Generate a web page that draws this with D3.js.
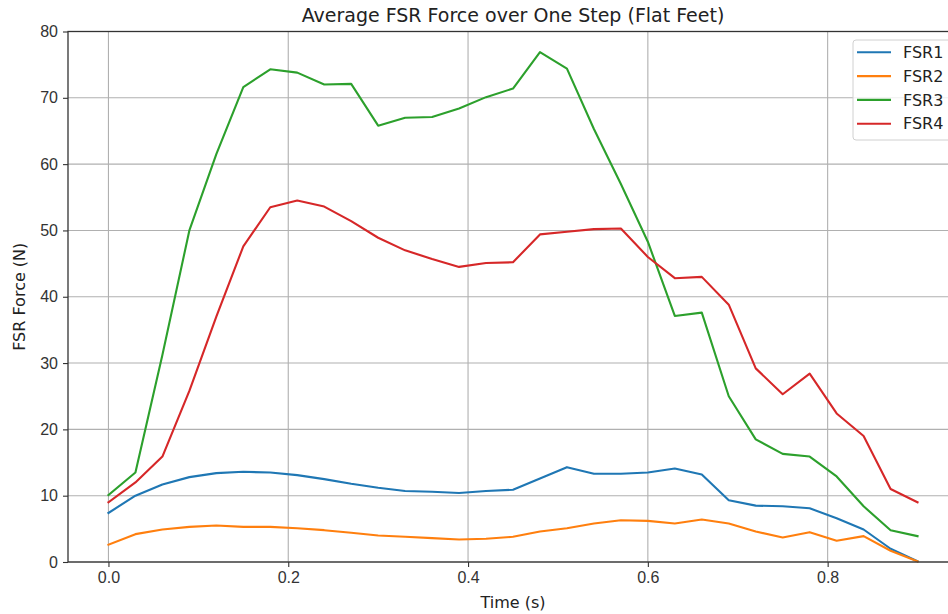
<!DOCTYPE html>
<html>
<head>
<meta charset="utf-8">
<script src="https://cdn.jsdelivr.net/npm/d3@7"></script>
<style>
  html, body { margin: 0; padding: 0; background: #fff; overflow: hidden; }
  svg { display: block; font-family: "DejaVu Sans", sans-serif; }
</style>
</head>
<body>
<div class="canvas"></div>
<script>
// time points (s)
const times = [0.00, 0.03, 0.06, 0.09, 0.12, 0.15, 0.18, 0.21, 0.24, 0.27, 0.30,
    0.33, 0.36, 0.39, 0.42, 0.45, 0.48, 0.51, 0.54, 0.57, 0.60,
    0.63, 0.66, 0.69, 0.72, 0.75, 0.78, 0.81, 0.84, 0.87, 0.90];

const fsr1 = [7.4, 10.0, 11.7, 12.8, 13.4, 13.6, 13.5, 13.1, 12.5, 11.8, 11.2,
    10.7, 10.6, 10.4, 10.7, 10.9, 12.6, 14.3, 13.3, 13.3, 13.5,
    14.1, 13.2, 9.3, 8.5, 8.4, 8.1, 6.6, 4.9, 2.0, 0.1];
const fsr2 = [2.6, 4.2, 4.9, 5.3, 5.5, 5.3, 5.3, 5.1, 4.8, 4.4, 4.0,
    3.8, 3.6, 3.4, 3.5, 3.8, 4.6, 5.1, 5.8, 6.3, 6.2,
    5.8, 6.4, 5.8, 4.6, 3.7, 4.5, 3.2, 3.9, 1.7, 0.1];
const fsr3 = [10.1, 13.5, 31.2, 50.0, 61.5, 71.6, 74.3, 73.8, 72.0, 72.1, 65.8,
    67.0, 67.1, 68.4, 70.1, 71.4, 76.9, 74.4, 65.3, 57.0, 48.3,
    37.1, 37.6, 25.0, 18.5, 16.3, 15.9, 12.9, 8.4, 4.8, 3.9];
const fsr4 = [9.0, 12.0, 15.9, 25.8, 37.0, 47.6, 53.5, 54.5, 53.6, 51.4, 48.9,
    47.0, 45.7, 44.5, 45.1, 45.2, 49.4, 49.8, 50.2, 50.3, 46.0,
    42.8, 43.0, 38.8, 29.2, 25.3, 28.4, 22.4, 19.0, 11.0, 9.0];

const seriesNames = ['FSR1', 'FSR2', 'FSR3', 'FSR4'];
const seriesColors = ['#1f77b4', '#ff7f0e', '#2ca02c', '#d62728'];
const xTicks = [0.0, 0.2, 0.4, 0.6, 0.8];
const yTicks = [0, 10, 20, 30, 40, 50, 60, 70, 80];

const dim = { width: 948, height: 614 };
const margin = { left: 68, top: 31.5, right: 958, bottom: 562 };

const svg = d3.select('.canvas').append('svg')
    .attr('width', dim.width)
    .attr('height', dim.height);

const x = d3.scaleLinear().domain([-0.045, 0.945]).range([margin.left, margin.right]);
const y = d3.scaleLinear().domain([0, 80]).range([margin.bottom, margin.top]);

// grid
const grid = svg.append('g').attr('stroke', '#b0b0b0').attr('stroke-width', 1.1);
grid.selectAll('.gx').data(xTicks).enter().append('line')
    .attr('x1', d => x(d)).attr('x2', d => x(d))
    .attr('y1', margin.top).attr('y2', margin.bottom);
grid.selectAll('.gy').data(yTicks).enter().append('line')
    .attr('x1', margin.left).attr('x2', margin.right)
    .attr('y1', d => y(d)).attr('y2', d => y(d));

// lines
const series = [fsr1, fsr2, fsr3, fsr4];
const line = d3.line()
    .x((d, i) => x(times[i]))
    .y(d => y(d));

svg.append('g').selectAll('path')
    .data(series)
    .enter().append('path')
    .attr('d', line)
    .attr('fill', 'none')
    .attr('stroke', (d, i) => seriesColors[i])
    .attr('stroke-width', 2.1)
    .attr('stroke-linejoin', 'round')
    .attr('stroke-linecap', 'square');

// axes
const xAxis = d3.axisBottom(x).tickValues(xTicks).tickFormat(d3.format('.1f')).tickSize(5).tickPadding(5);
const yAxis = d3.axisLeft(y).tickValues(yTicks).tickSize(5).tickPadding(5);

const gx = svg.append('g').attr('transform', `translate(0, ${margin.bottom})`).call(xAxis);
const gy = svg.append('g').attr('transform', `translate(${margin.left}, 0)`).call(yAxis);

[gx, gy].forEach(g => {
    g.select('.domain').remove();
    g.selectAll('line').attr('stroke', '#333').attr('stroke-width', 1.1);
    g.selectAll('text').attr('fill', '#333').style('font-size', '16px');
});

// spines
svg.append('rect')
    .attr('x', margin.left).attr('y', margin.top)
    .attr('width', margin.right - margin.left)
    .attr('height', margin.bottom - margin.top)
    .attr('fill', 'none')
    .attr('stroke', '#333')
    .attr('stroke-width', 1.3);

// titles
svg.append('text')
    .attr('x', (margin.left + margin.right) / 2)
    .attr('y', 22)
    .attr('text-anchor', 'middle')
    .style('font-size', '19px')
    .attr('fill', '#222')
    .text('Average FSR Force over One Step (Flat Feet)');

svg.append('text')
    .attr('x', (margin.left + margin.right) / 2)
    .attr('y', 608)
    .attr('text-anchor', 'middle')
    .style('font-size', '16px')
    .attr('fill', '#222')
    .text('Time (s)');

svg.append('text')
    .attr('transform', `translate(25, ${(margin.top + margin.bottom) / 2}) rotate(-90)`)
    .attr('text-anchor', 'middle')
    .style('font-size', '16px')
    .attr('fill', '#222')
    .text('FSR Force (N)');

// legend
const legendGroup = svg.append('g').attr('transform', 'translate(853, 40)');
legendGroup.append('rect')
    .attr('width', 110).attr('height', 100)
    .attr('rx', 3)
    .attr('fill', 'rgba(255,255,255,0.8)')
    .attr('stroke', '#d0d0d0');

const entries = legendGroup.selectAll('.entry')
    .data(seriesNames)
    .enter().append('g')
    .attr('transform', (d, i) => `translate(0, ${12.3 + i * 23.8})`);
entries.append('line')
    .attr('x1', 4).attr('x2', 38)
    .attr('stroke', (d, i) => seriesColors[i])
    .attr('stroke-width', 2.1);
entries.append('text')
    .attr('x', 50).attr('dy', '0.35em')
    .style('font-size', '16px')
    .attr('fill', '#222')
    .text(d => d);
</script>
</body>
</html>
